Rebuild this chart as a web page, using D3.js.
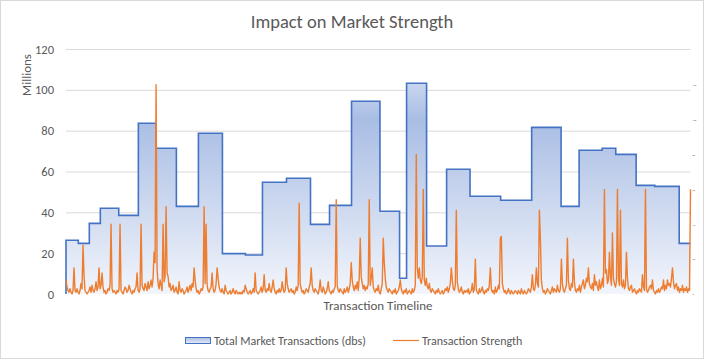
<!DOCTYPE html>
<html>
<head>
<meta charset="utf-8">
<script src="https://cdn.jsdelivr.net/npm/d3@7"></script>
<style>
  html, body { margin: 0; padding: 0; background: #fff; }
  svg { display: block; }
  text { font-family: Carlito, Calibri, Lato, "Open Sans", sans-serif; fill: #595959; }
</style>
</head>
<body>
<svg id="chart" width="705" height="360"></svg>
<script>
// ---------- DATA ----------
const title = "Impact on Market Strength";
const xAxisTitle = "Transaction Timeline";
const yAxisTitle = "Millions";
const seriesNames = ["Total Market Transactions (dbs)", "Transaction Strength"];

// Primary axis ticks (millions)
const yTicks = [0, 20, 40, 60, 80, 100, 120];
// Secondary axis ticks (strength)
const y2Ticks = [0, 20, 40, 60, 80, 100, 120];

// Total market transactions: step periods (start step on the timeline) and level (millions)
const periodStarts = [0, 12.3, 23.3, 34.3, 52.7, 72.3, 90, 110.3, 132.3, 156.3, 179.3, 196.3, 220.3, 244.3, 263.3, 285.3,
  313.7, 333.3, 340.3, 360.3, 380.3, 403.7, 434.3, 465.3, 494.7, 512.7, 535.7, 549.3, 569.7, 588.3, 612.7];
const periodEnd = 624;
const totalTransactions = [26.3, 24.8, 34.6, 42.0, 38.5, 83.6, 71.4, 42.9, 78.7, 19.8, 19.1, 54.7, 56.7, 34.1, 43.4, 94.4,
  40.5, 7.7, 103.2, 23.5, 61.1, 47.9, 45.9, 81.6, 42.9, 70.4, 71.4, 68.4, 53.2, 52.7, 24.8];

// Transaction strength, one value per timeline step (625 steps)
const strength = [
  8,4,2,1,3, 1,0,2,15,2, 1,3,1,0,2, 6,3,28,11,2, 1,0,1,2,4,
  1,5,2,1,3, 7,2,4,15,3, 5,12,4,1,2, 0,1,3,2,5, 40,3,1,2,1,
  0,2,1,3,40, 2,1,0,2,4, 3,1,2,5,3, 1,0,2,1,3, 4,12,2,1,3,
  40,5,3,2,6, 4,2,7,3,5, 8,4,9,24,18, 120,14,6,3,8, 5,2,40,7,10,
  50,12,10,4,6, 2,3,5,1,2, 4,1,0,7,2, 1,3,2,0,1, 2,4,1,3,5,
  2,6,4,15,8, 3,1,2,0,1, 3,2,4,50,6, 40,5,2,1,3, 4,12,3,1,2,
  6,15,9,4,2, 1,3,1,0,5, 2,1,0,1,2, 0,1,3,1,0, 2,1,0,1,0,
  1,0,2,1,5, 3,1,0,1,2, 0,1,3,1,12, 2,1,0,1,2, 4,1,3,11,2,
  1,3,2,6,2, 1,4,8,3,1, 0,2,1,3,1, 2,7,3,1,2, 15,6,3,1,2,
  3,1,2,0,1, 4,2,5,52,6, 3,1,2,0,1, 3,2,1,4,6, 15,5,2,1,3,
  2,1,0,3,8, 2,1,4,2,0, 1,3,7,2,1, 0,2,1,3,4, 54,5,2,1,3,
  2,1,0,3,1, 2,4,1,3,6, 18,8,4,2,5, 3,7,2,9,32, 10,6,3,5,2,
  4,3,6,54,5, 9,15,4,2,1, 3,2,5,1,0, 3,6,32,18,9, 4,2,1,3,2,
  1,0,2,1,3, 0,1,2,4,8, 3,1,0,2,1, 3,0,1,2,1, 0,3,1,2,5,
  80,15,9,15,8, 6,10,60,8,5, 9,4,3,6,2, 1,3,2,1,0, 2,1,3,1,0,
  1,2,0,1,3, 2,4,1,3,6, 15,8,3,2,5, 48,7,3,1,2, 4,1,0,2,1,
  2,1,3,0,1, 2,6,1,3,20, 2,1,0,3,1, 2,4,1,0,2, 1,3,2,5,15,
  3,1,2,0,4, 1,2,5,3,32, 33,6,3,1,2, 0,1,3,1,0, 2,1,0,1,2,
  1,0,2,1,0, 3,1,0,2,1, 0,1,3,2,1, 4,11,3,2,5, 15,6,4,48,32,
  8,3,1,2,0, 1,3,2,1,0, 2,4,1,3,2, 1,5,2,1,3, 20,6,2,1,3,
  5,32,8,3,2, 6,4,20,7,2, 1,3,2,5,1, 4,6,8,3,5, 9,7,15,6,4,
  3,6,2,11,5, 7,4,2,8,3, 5,9,4,60,12, 14,6,8,24,10, 5,35,9,6,4,
  7,60,9,5,48, 6,4,8,3,5, 24,9,3,2,4, 5,1,2,3,1, 0,2,1,3,2,
  1,11,4,2,60, 3,1,2,4,5, 3,8,2,1,0, 2,1,3,1,2, 4,3,8,2,5,
  3,8,5,6,4, 9,15,7,3,5, 6,2,4,1,3, 2,5,1,3,2, 4,1,3,2,60
];

// ---------- LAYOUT ----------
const W = 705, H = 360;
const plot = { left: 66, right: 690.5, top: 49, bottom: 294 };
const svg = d3.select("#chart");

// chart border
svg.append("rect").attr("x", 0.5).attr("y", 0.5).attr("width", W - 2).attr("height", H - 2)
  .attr("fill", "#fff").attr("stroke", "#D9D9D9").attr("stroke-width", 1);

const x = d3.scaleLinear().domain([0, periodEnd]).range([plot.left, plot.right]);
const y = d3.scaleLinear().domain([0, 120]).range([plot.bottom, plot.top]);
const y2 = d3.scaleLinear().domain([0, 120]).range([plot.bottom, 84.7]);

// gradient
const defs = svg.append("defs");
const grad = defs.append("linearGradient").attr("id", "areaGrad")
  .attr("gradientUnits", "userSpaceOnUse")
  .attr("x1", 0).attr("x2", 0).attr("y1", y(d3.max(totalTransactions))).attr("y2", y(0));
grad.append("stop").attr("offset", "0%").attr("stop-color", "#C9D6EF");
grad.append("stop").attr("offset", "17%").attr("stop-color", "#A9BDE4");
grad.append("stop").attr("offset", "100%").attr("stop-color", "#F2F5FB");
const lgGrad = defs.append("linearGradient").attr("id", "legGrad").attr("x1", 0).attr("x2", 0).attr("y1", 0).attr("y2", 1);
lgGrad.append("stop").attr("offset", "0%").attr("stop-color", "#A9BDE4");
lgGrad.append("stop").attr("offset", "100%").attr("stop-color", "#E6ECF7");

// gridlines
const grid = d3.axisLeft(y).tickValues(yTicks.filter(d => d > 0)).tickSize(-(plot.right - plot.left)).tickFormat("");
svg.append("g").attr("transform", `translate(${plot.left},0)`).call(grid)
  .call(g => g.select(".domain").remove())
  .call(g => g.selectAll("line").attr("stroke", "#D9D9D9").attr("stroke-width", 1));

// Y axis labels
const yAxis = d3.axisLeft(y).tickValues(yTicks).tickSize(0).tickPadding(12);
svg.append("g").attr("transform", `translate(${plot.left},0)`).call(yAxis)
  .call(g => g.select(".domain").remove())
  .call(g => g.selectAll("text").style("font-size", "12.5px").attr("fill", "#595959"));

// Secondary axis (tiny labels)
const y2Axis = d3.axisRight(y2).tickValues(y2Ticks).tickSize(0).tickPadding(2);
svg.append("g").attr("transform", `translate(${plot.right},0)`).call(y2Axis)
  .call(g => g.select(".domain").remove())
  .call(g => g.selectAll("text").style("font-size", "2.5px").attr("fill", "#7F8FB0"));

// step area
const stepPts = periodStarts.map((s, i) => ({ t: s, v: totalTransactions[i] }));
stepPts.push({ t: periodEnd, v: totalTransactions[totalTransactions.length - 1] });
const area = d3.area().curve(d3.curveStepAfter).x(d => x(d.t)).y0(y(0)).y1(d => y(d.v));
svg.append("path").datum(stepPts).attr("d", area).attr("fill", "url(#areaGrad)");
const outline = d3.line().curve(d3.curveStepAfter).x(d => x(d.t)).y(d => y(d.v));
const outlinePts = [{ t: 0, v: 0 }, ...stepPts];
svg.append("path").datum(outlinePts).attr("d", outline)
  .attr("fill", "none").attr("stroke", "#4472C4").attr("stroke-width", 1.6).attr("stroke-linejoin", "miter");

// strength line
const line = d3.line().x((d, i) => x(i)).y(d => y2(d));
svg.append("path").datum(strength).attr("d", line)
  .attr("fill", "none").attr("stroke", "#ED7D31").attr("stroke-width", 1.4).attr("stroke-linejoin", "round");

// titles
svg.append("text").attr("x", 352).attr("y", 28).attr("text-anchor", "middle")
  .style("font-size", "18.5px").text(title);
svg.append("text").attr("x", 378).attr("y", 310).attr("text-anchor", "middle")
  .style("font-size", "13px").text(xAxisTitle);
svg.append("text").attr("transform", "translate(31,75) rotate(-90)").attr("text-anchor", "middle")
  .style("font-size", "13px").text(yAxisTitle);

// legend
const lg = svg.append("g");
lg.append("rect").attr("x", 185.5).attr("y", 337.5).attr("width", 25).attr("height", 6)
  .attr("fill", "url(#legGrad)").attr("stroke", "#4472C4").attr("stroke-width", 1);
lg.append("text").attr("x", 214).attr("y", 344.5).style("font-size", "12px").text(seriesNames[0]);
lg.append("line").attr("x1", 393).attr("x2", 419).attr("y1", 340.5).attr("y2", 340.5)
  .attr("stroke", "#ED7D31").attr("stroke-width", 1.2);
lg.append("text").attr("x", 422).attr("y", 344.5).style("font-size", "12px").text(seriesNames[1]);
</script>
</body>
</html>
